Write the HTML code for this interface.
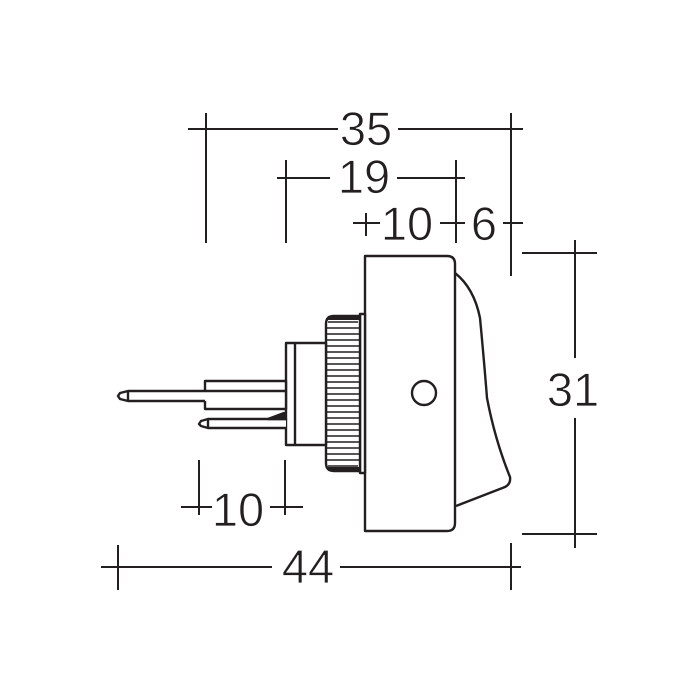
<!DOCTYPE html>
<html><head><style>html,body{margin:0;padding:0;background:#fff}svg{display:block}</style></head>
<body>
<svg width="700" height="700" viewBox="0 0 700 700" xmlns="http://www.w3.org/2000/svg">
<g stroke="#231f20" fill="none" stroke-width="2">
<line x1="188" y1="129" x2="338" y2="129"/><line x1="398" y1="129" x2="523" y2="129"/>
<line x1="206" y1="113" x2="206" y2="243"/><line x1="511" y1="113" x2="511" y2="276"/>
<line x1="277" y1="178" x2="330" y2="178"/><line x1="397" y1="178" x2="465" y2="178"/>
<line x1="286" y1="160" x2="286" y2="243"/><line x1="456" y1="160" x2="456" y2="243"/>
<line x1="353" y1="223" x2="380" y2="223"/><line x1="366" y1="213" x2="366" y2="236"/>
<line x1="440" y1="223" x2="465" y2="223"/>
<line x1="503" y1="223" x2="523" y2="223"/>
<line x1="575" y1="240" x2="575" y2="358"/><line x1="575" y1="418" x2="575" y2="548"/>
<line x1="522" y1="253" x2="597" y2="253"/><line x1="522" y1="534" x2="597" y2="534"/>
<line x1="181" y1="507" x2="212" y2="507"/><line x1="270" y1="507" x2="303" y2="507"/>
<line x1="199" y1="460" x2="199" y2="515"/><line x1="285" y1="460" x2="285" y2="515"/>
<line x1="101" y1="567" x2="272" y2="567"/><line x1="340" y1="567" x2="521" y2="567"/>
<line x1="118" y1="545" x2="118" y2="590"/><line x1="511" y1="543" x2="511" y2="590"/>
</g>
<g stroke="#231f20" fill="#fff" stroke-width="2.4" stroke-linejoin="round">
<path d="M455 273 Q474 288 480 318 Q484 360 487 398 Q495 440 510 477 Q511 484 505 487 L456 506"/>
<path d="M365 256 L447 256 Q455 256 455 264 L455 523 Q455 531 447 531 L365 531 Z"/>
<circle cx="424" cy="393" r="12"/>
<rect x="360" y="314" width="5" height="159"/>
<path d="M326 324 Q326 316 334 316 L360 316 L360 471 L334 471 Q326 471 326 463 Z"/>
<rect x="286" y="343" width="40" height="102"/>
<line x1="295" y1="343" x2="295" y2="445"/>
<rect x="205" y="381" width="81" height="28"/>
<path d="M286 391 L128 391 L120 393 L118 396 L120 399 L128 401 L205 401"/>
<line x1="128" y1="391" x2="128" y2="401"/>
<path d="M286 419 L208 419 L201 421 L199 424 L201 426 L208 428 L286 428"/>
<line x1="208" y1="419" x2="208" y2="428"/>
<path d="M268 419 L284 413 L286 419 Z" fill="#231f20"/>
</g>
<g stroke="#231f20" stroke-width="1.6">
<line x1="328" y1="322" x2="358" y2="322"/><line x1="327" y1="328" x2="359" y2="328"/>
<line x1="327" y1="334" x2="359" y2="334"/><line x1="327" y1="340" x2="359" y2="340"/>
<line x1="327" y1="346" x2="359" y2="346"/><line x1="327" y1="352" x2="359" y2="352"/>
<line x1="327" y1="358" x2="359" y2="358"/><line x1="327" y1="364" x2="359" y2="364"/>
<line x1="327" y1="370" x2="359" y2="370"/><line x1="327" y1="376" x2="359" y2="376"/>
<line x1="327" y1="382" x2="359" y2="382"/><line x1="327" y1="388" x2="359" y2="388"/>
<line x1="327" y1="394" x2="359" y2="394"/><line x1="327" y1="400" x2="359" y2="400"/>
<line x1="327" y1="406" x2="359" y2="406"/><line x1="327" y1="412" x2="359" y2="412"/>
<line x1="327" y1="418" x2="359" y2="418"/><line x1="327" y1="424" x2="359" y2="424"/>
<line x1="327" y1="430" x2="359" y2="430"/><line x1="327" y1="436" x2="359" y2="436"/>
<line x1="327" y1="442" x2="359" y2="442"/><line x1="327" y1="448" x2="359" y2="448"/>
<line x1="327" y1="454" x2="359" y2="454"/><line x1="327" y1="460" x2="359" y2="460"/>
<line x1="328" y1="466" x2="358" y2="466"/>
</g>
<rect x="328" y="316" width="31" height="4" fill="#231f20"/>
<rect x="328" y="467" width="31" height="4" fill="#231f20"/>
<g font-family="Liberation Sans, sans-serif" font-size="47" fill="#231f20" text-anchor="middle" stroke="#fff" stroke-width="0.8">
<text x="366" y="145">35</text>
<text x="364" y="193">19</text>
<text x="407" y="240">10</text>
<text x="484" y="240">6</text>
<text x="573" y="406">31</text>
<text x="238" y="526">10</text>
<text x="308" y="583">44</text>
</g>
</svg>
</body></html>
